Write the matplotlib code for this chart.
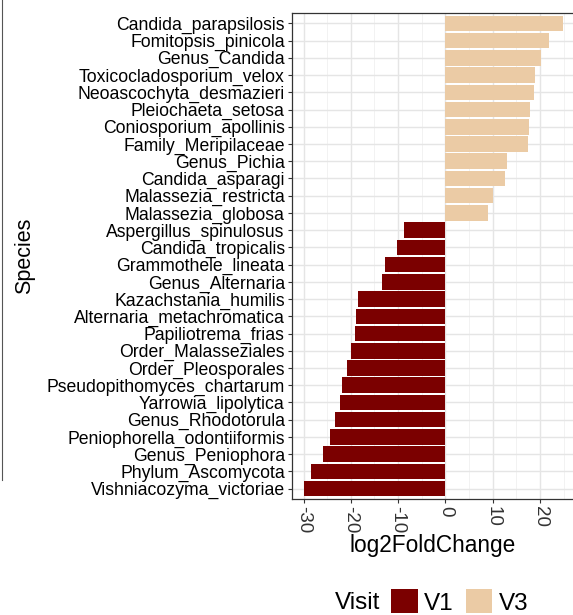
import matplotlib
matplotlib.use("Agg")
import matplotlib.pyplot as plt
from matplotlib.patches import Patch
from matplotlib.lines import Line2D

plt.rcParams['font.family'] = ['Liberation Sans', 'DejaVu Sans']

# species top -> bottom, with log2 fold change
species = ["Candida_parapsilosis", "Fomitopsis_pinicola", "Genus_Candida",
           "Toxicocladosporium_velox", "Neoascochyta_desmazieri", "Pleiochaeta_setosa",
           "Coniosporium_apollinis", "Family_Meripilaceae", "Genus_Pichia",
           "Candida_asparagi", "Malassezia_restricta", "Malassezia_globosa",
           "Aspergillus_spinulosus", "Candida_tropicalis", "Grammothele_lineata",
           "Genus_Alternaria", "Kazachstania_humilis", "Alternaria_metachromatica",
           "Papiliotrema_frias", "Order_Malasseziales", "Order_Pleosporales",
           "Pseudopithomyces_chartarum", "Yarrowia_lipolytica", "Genus_Rhodotorula",
           "Peniophorella_odontiiformis", "Genus_Peniophora", "Phylum_Ascomycota",
           "Vishniacozyma_victoriae"]
lfc = [24.8, 22.0, 20.2, 19.0, 18.7, 17.9, 17.6, 17.4, 13.0, 12.7, 10.0, 8.9,
       -8.7, -10.3, -12.7, -13.4, -18.4, -18.9, -19.2, -19.9, -20.9, -21.9,
       -22.3, -23.3, -24.3, -25.9, -28.5, -30.0]
visit = ["V3" if v > 0 else "V1" for v in lfc]
colors = {"V1": "#7B0000", "V3": "#EBCBA5"}
xticks = [-30, -20, -10, 0, 10, 20]

W, H = 573, 615
fig = plt.figure(figsize=(W / 100, H / 100), dpi=100)
# panel reaches the right edge of the picture, like the cropped original
ax_l, ax_r, ax_t, ax_b = 291.7, 573, 13, 499
ax = fig.add_axes([ax_l / W, 1 - ax_b / H, (ax_r - ax_l) / W, (ax_b - ax_t) / H])

n = len(species)
ypos = list(range(n))
ax.barh(ypos, lfc, height=0.9, color=[colors[v] for v in visit], zorder=3)

px_per_unit = 4.73
xmin = -32.5
ax.set_xlim(xmin, xmin + (ax_r - ax_l) / px_per_unit)
ax.set_ylim(n - 1 + 0.6, -0.6)

ax.set_yticks(ypos)
ax.set_yticklabels(species, fontsize=12.7, color="black")
ax.set_xticks(xticks)
ax.set_xticklabels([str(t) for t in xticks], rotation=-90, fontsize=13.5, color="#333333")
ax.set_xticks([-25, -15, -5, 5, 15, 25], minor=True)
ax.tick_params(axis="both", which="major", length=3, width=0.8, color="#333333", pad=2)
ax.tick_params(axis="x", which="minor", length=0)

ax.grid(True, which="major", color="#E5E5E5", lw=1.0, zorder=0)
ax.grid(True, which="minor", axis="x", color="#F0F0F0", lw=0.6, zorder=0)
ax.set_axisbelow(True)
for s in ax.spines.values():
    s.set_color("#333333")
    s.set_linewidth(0.9)
ax.spines["right"].set_visible(False)

ax.set_xlabel("log2FoldChange", fontsize=16.3)
ax.xaxis.set_label_coords(0.5, -(534 - ax_b) / (ax_b - ax_t))
ax.set_ylabel("Species", fontsize=15.5)
ax.yaxis.set_label_coords(-(ax_l - 35) / (ax_r - ax_l), 0.5)

# legend at bottom
handles = [Patch(facecolor=colors["V1"]), Patch(facecolor=colors["V3"])]
fig.legend(handles, ["V1", "V3"], ncol=2, loc="center left",
           bbox_to_anchor=(391 / W, 1 - 602 / H), frameon=False,
           fontsize=17.5, handlelength=1.1, handleheight=1.15,
           borderpad=0, borderaxespad=0,
           columnspacing=0.5, handletextpad=0.25)
fig.text(335 / W, 1 - 603 / H, "Visit", fontsize=17.5, va="center", ha="left")

# leftover border line on the left edge
fig.add_artist(Line2D([2 / W, 2 / W], [1, 1 - 480 / H], color="#555555", lw=0.8))

fig.savefig("out.png", dpi=100)
